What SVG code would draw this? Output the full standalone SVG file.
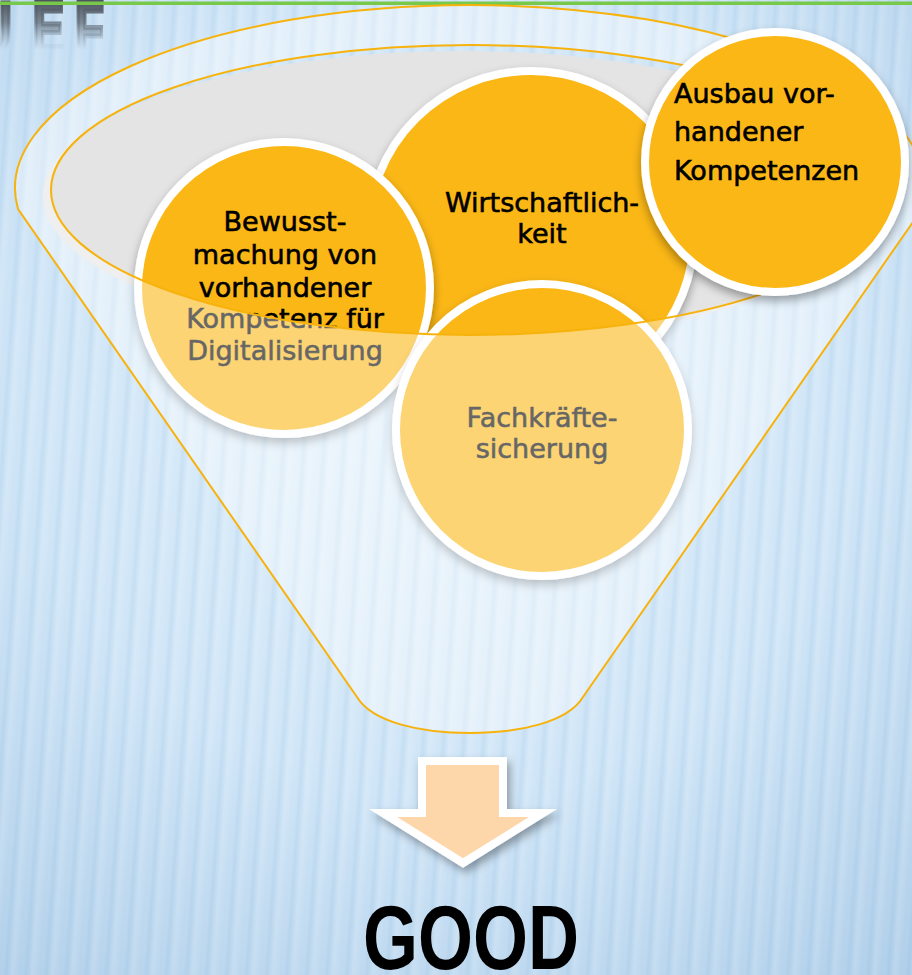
<svg xmlns="http://www.w3.org/2000/svg" width="912" height="975" viewBox="0 0 912 975">
<defs>
  <radialGradient id="bg" cx="440" cy="380" r="760" gradientUnits="userSpaceOnUse">
    <stop offset="0" stop-color="#e1f0fb"/>
    <stop offset="0.55" stop-color="#cfe5f7"/>
    <stop offset="1" stop-color="#afcee9"/>
  </radialGradient>
  <linearGradient id="stripeG" x1="0" y1="0" x2="1" y2="0">
    <stop offset="0" stop-color="#ffffff" stop-opacity="0.16"/>
    <stop offset="0.4" stop-color="#ffffff" stop-opacity="0"/>
    <stop offset="0.7" stop-color="#7aaed8" stop-opacity="0.15"/>
    <stop offset="1" stop-color="#ffffff" stop-opacity="0.16"/>
  </linearGradient>
  <pattern id="stripes" width="20" height="40" patternUnits="userSpaceOnUse" patternTransform="rotate(4)">
    <rect width="20" height="40" fill="url(#stripeG)"/>
  </pattern>
  <linearGradient id="fade" x1="0" y1="0" x2="0" y2="50" gradientUnits="userSpaceOnUse">
    <stop offset="0" stop-color="#4b525c"/>
    <stop offset="0.45" stop-color="#66717d" stop-opacity="0.8"/>
    <stop offset="1" stop-color="#9fb5c8" stop-opacity="0"/>
  </linearGradient>
  <filter id="sh" x="-20%" y="-20%" width="140%" height="150%">
    <feDropShadow dx="0" dy="5" stdDeviation="5" flood-color="#000" flood-opacity="0.35"/>
  </filter>
  <filter id="sh2" x="-20%" y="-20%" width="150%" height="150%">
    <feDropShadow dx="3" dy="5" stdDeviation="4" flood-color="#000" flood-opacity="0.35"/>
  </filter>
  <style>
    .c { fill:#FBB715; stroke:#ffffff; stroke-width:8; filter:url(#sh); }
    .t { font-family:"DejaVu Sans","Liberation Sans",sans-serif; font-size:27px; fill:#000000; stroke:#000000; stroke-width:0.6; }
    .m { text-anchor:middle; }
    .line { stroke:#F7B20C; stroke-width:2; }
  </style>
</defs>

<g id="background">
  <rect width="912" height="975" fill="url(#bg)"/>
  <rect width="912" height="975" fill="url(#stripes)"/>
  <text transform="scale(0.62,1)" x="-36 53 121" y="55" font-family="Liberation Sans, Arial, sans-serif" font-weight="bold" font-size="76" fill="url(#fade)" stroke="url(#fade)" stroke-width="5">UEF</text>
  <rect x="0" y="1.5" width="912" height="3.5" fill="#78c84a"/>
</g>

<g id="funnel-back">
  <ellipse cx="462" cy="196" rx="419" ry="145" fill="#e3e4e3"/>
</g>

<g id="node-wirtschaftlichkeit">
  <circle class="c" cx="531" cy="234" r="163"/>
  <text class="t m" x="542" y="212">Wirtschaftlich-</text>
  <text class="t m" x="542" y="243">keit</text>
</g>

<g id="node-bewusstmachung">
  <circle class="c" cx="284" cy="288" r="146"/>
  <text class="t m" x="285" y="231">Bewusst-</text>
  <text class="t m" x="285" y="264">machung von</text>
  <text class="t m" x="285" y="297">vorhandener</text>
  <text class="t m" x="285" y="328">Kompetenz für</text>
  <text class="t m" x="285" y="360">Digitalisierung</text>
</g>

<g id="node-fachkraefte">
  <circle class="c" cx="542" cy="430" r="146"/>
  <text class="t m" x="542" y="427">Fachkräfte-</text>
  <text class="t m" x="542" y="458">sicherung</text>
</g>

<g id="funnel-front">
  <path class="line" fill="#ffffff" fill-opacity="0.4" fill-rule="evenodd" d="M18,209 A455,183 0 1 1 922,209 L583,697 C568,722 520,733 470,733 C420,733 372,722 357,697 Z M51,190 A419,145 0 1 0 889,190 A419,145 0 1 0 51,190 Z"/>
</g>

<g id="node-ausbau">
  <circle class="c" cx="775" cy="162" r="130"/>
  <text class="t" x="674" y="103">Ausbau vor-</text>
  <text class="t" x="674" y="141">handener</text>
  <text class="t" x="674" y="180">Kompetenzen</text>
</g>

<g id="connectors">
  <path d="M422,761 H503 V813 H543 L463,863 L383,813 H422 Z" fill="#FDD7AA" stroke="#ffffff" stroke-width="8" filter="url(#sh2)"/>
</g>

<g id="node-good">
  <text x="363" y="969" font-family="Liberation Sans, Arial, sans-serif" font-weight="bold" font-size="90" textLength="216" lengthAdjust="spacingAndGlyphs" fill="#000000">GOOD</text>
</g>
</svg>
